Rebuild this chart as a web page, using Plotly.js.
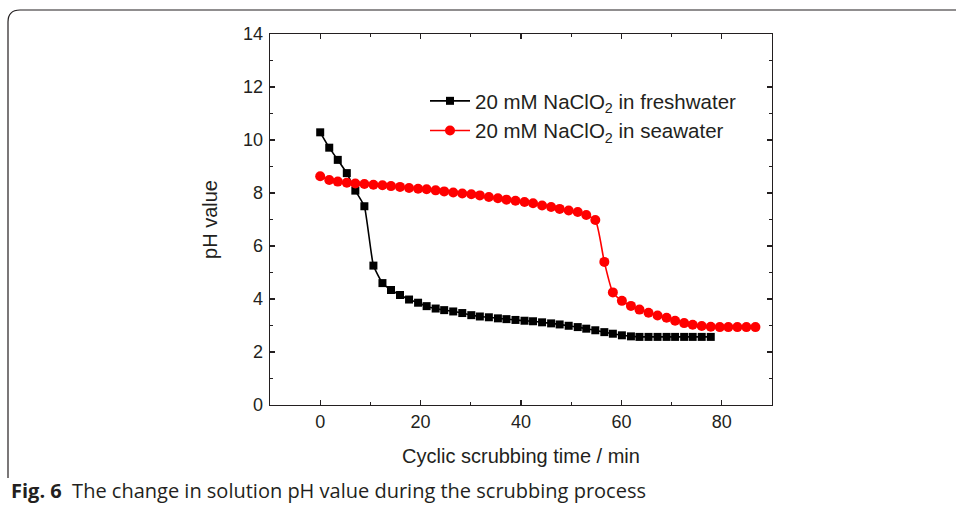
<!DOCTYPE html>
<html>
<head>
<meta charset="utf-8">
<script src="https://cdn.plot.ly/plotly-3.0.1.min.js"></script>
<style>
  html, body { margin: 0; padding: 0; background: #ffffff; }
  #chart { width: 956px; height: 507px; }
</style>
</head>
<body>
<div id="chart"></div>
<script>
// Sampling times (min)
const time = [0, 1.8, 3.5, 5.3, 7.0, 8.8, 10.6, 12.4, 14.1, 15.9,
              17.7, 19.5, 21.2, 23.0, 24.7, 26.5, 28.3, 30.1, 31.8, 33.6,
              35.4, 37.1, 38.9, 40.7, 42.4, 44.2, 46.0, 47.7, 49.5, 51.3,
              53.0, 54.8, 56.6, 58.3, 60.1, 61.9, 63.6, 65.4, 67.2, 69.0,
              70.7, 72.5, 74.2, 76.0, 77.8, 79.6, 81.3, 83.1, 84.9, 86.7];

// 20 mM NaClO2 in freshwater (45 points)
const phFresh = [10.29, 9.71, 9.25, 8.75, 8.09, 7.50, 5.26, 4.60, 4.34, 4.15,
                 3.98, 3.86, 3.73, 3.64, 3.58, 3.53, 3.47, 3.39, 3.34, 3.31,
                 3.27, 3.24, 3.21, 3.18, 3.16, 3.12, 3.08, 3.04, 2.99, 2.94,
                 2.88, 2.82, 2.75, 2.69, 2.63, 2.59, 2.57, 2.57, 2.57, 2.57,
                 2.57, 2.57, 2.57, 2.57, 2.57];

// 20 mM NaClO2 in seawater (50 points)
const phSea = [8.63, 8.49, 8.43, 8.39, 8.36, 8.34, 8.31, 8.29, 8.26, 8.23,
               8.19, 8.16, 8.14, 8.10, 8.06, 8.02, 7.98, 7.95, 7.91, 7.85,
               7.80, 7.75, 7.71, 7.66, 7.61, 7.53, 7.47, 7.40, 7.34, 7.28,
               7.17, 6.98, 5.40, 4.25, 3.93, 3.74, 3.60, 3.48, 3.38, 3.29,
               3.18, 3.09, 3.03, 2.98, 2.95, 2.94, 2.94, 2.94, 2.94, 2.94];

const seriesNames = ['20 mM NaClO<sub>2</sub> in freshwater',
                     '20 mM NaClO<sub>2</sub> in seawater'];

const xTitle = 'Cyclic scrubbing time / min';
const yTitle = 'pH value';
const caption = '<b>Fig. 6</b>  The change in solution pH value during the scrubbing process';

// plot-area geometry (pixels)
const W = 956, H = 507;
const L = 270, R = 772, T = 34, B = 405;
const px = x => (x - L) / (R - L);
const py = y => (B - y) / (B - T);

const traces = [
  {
    x: time.slice(0, phFresh.length), y: phFresh, name: seriesNames[0],
    type: 'scatter', mode: 'lines+markers',
    line: { color: '#000000', width: 1.6, shape: 'spline', smoothing: 0.4 },
    marker: { symbol: 'square', size: 8, color: '#000000' }
  },
  {
    x: time.slice(0, phSea.length), y: phSea, name: seriesNames[1],
    type: 'scatter', mode: 'lines+markers',
    line: { color: '#ff0000', width: 1.6, shape: 'spline', smoothing: 0.6 },
    marker: { symbol: 'circle', size: 10, color: '#ff0000' }
  }
];

const fontMain = 'Liberation Sans, Arial, sans-serif';
const ink = '#231f20';

const layout = {
  width: W, height: H,
  margin: { l: L, r: W - R, t: T, b: H - B, pad: 0 },
  paper_bgcolor: '#ffffff', plot_bgcolor: '#ffffff',
  font: { family: fontMain, size: 16, color: ink },
  showlegend: true,
  legend: {
    x: px(425), y: py(81), xanchor: 'left', yanchor: 'top',
    bgcolor: 'rgba(0,0,0,0)', borderwidth: 0,
    font: { family: fontMain, size: 20.5, color: ink },
    itemwidth: 40
  },
  xaxis: {
    range: [-10, 90], tick0: 0, dtick: 20,
    showline: true, linecolor: ink, linewidth: 1.3, mirror: 'ticks',
    ticks: 'inside', ticklen: 5, tickwidth: 1.2, tickcolor: ink,
    minor: { ticks: 'inside', ticklen: 3, tickwidth: 1.2, dtick: 10, tickcolor: ink },
    showgrid: false, zeroline: false,
    tickfont: { family: fontMain, size: 18, color: ink },
    title: { text: xTitle, standoff: 18, font: { family: fontMain, size: 20, color: ink } }
  },
  yaxis: {
    range: [0, 14], tick0: 0, dtick: 2,
    showline: true, linecolor: ink, linewidth: 1.3, mirror: 'ticks',
    ticks: 'inside', ticklen: 5, tickwidth: 1.2, tickcolor: ink,
    minor: { ticks: 'inside', ticklen: 3, tickwidth: 1.2, dtick: 1, tickcolor: ink },
    showgrid: false, zeroline: false,
    tickfont: { family: fontMain, size: 18, color: ink },
    ticklabelstandoff: 2,
    title: { text: yTitle, standoff: 20, font: { family: fontMain, size: 20, color: ink } }
  },
  shapes: [
    {
      type: 'path', xref: 'paper', yref: 'paper',
      path: 'M ' + px(8) + ',' + py(478) + ' L ' + px(8) + ',' + py(22) +
            ' Q ' + px(8) + ',' + py(10) + ' ' + px(20) + ',' + py(10) +
            ' L ' + px(960) + ',' + py(10),
      line: { color: ink, width: 1.2 }
    }
  ],
  annotations: [
    {
      xref: 'paper', yref: 'paper', x: px(9), y: py(490),
      xanchor: 'left', yanchor: 'middle', showarrow: false,
      text: caption,
      font: { family: 'Open Sans, Noto Sans, sans-serif', size: 20, color: ink }
    }
  ]
};

Plotly.newPlot('chart', traces, layout, { displayModeBar: false, staticPlot: true });
</script>
</body>
</html>
